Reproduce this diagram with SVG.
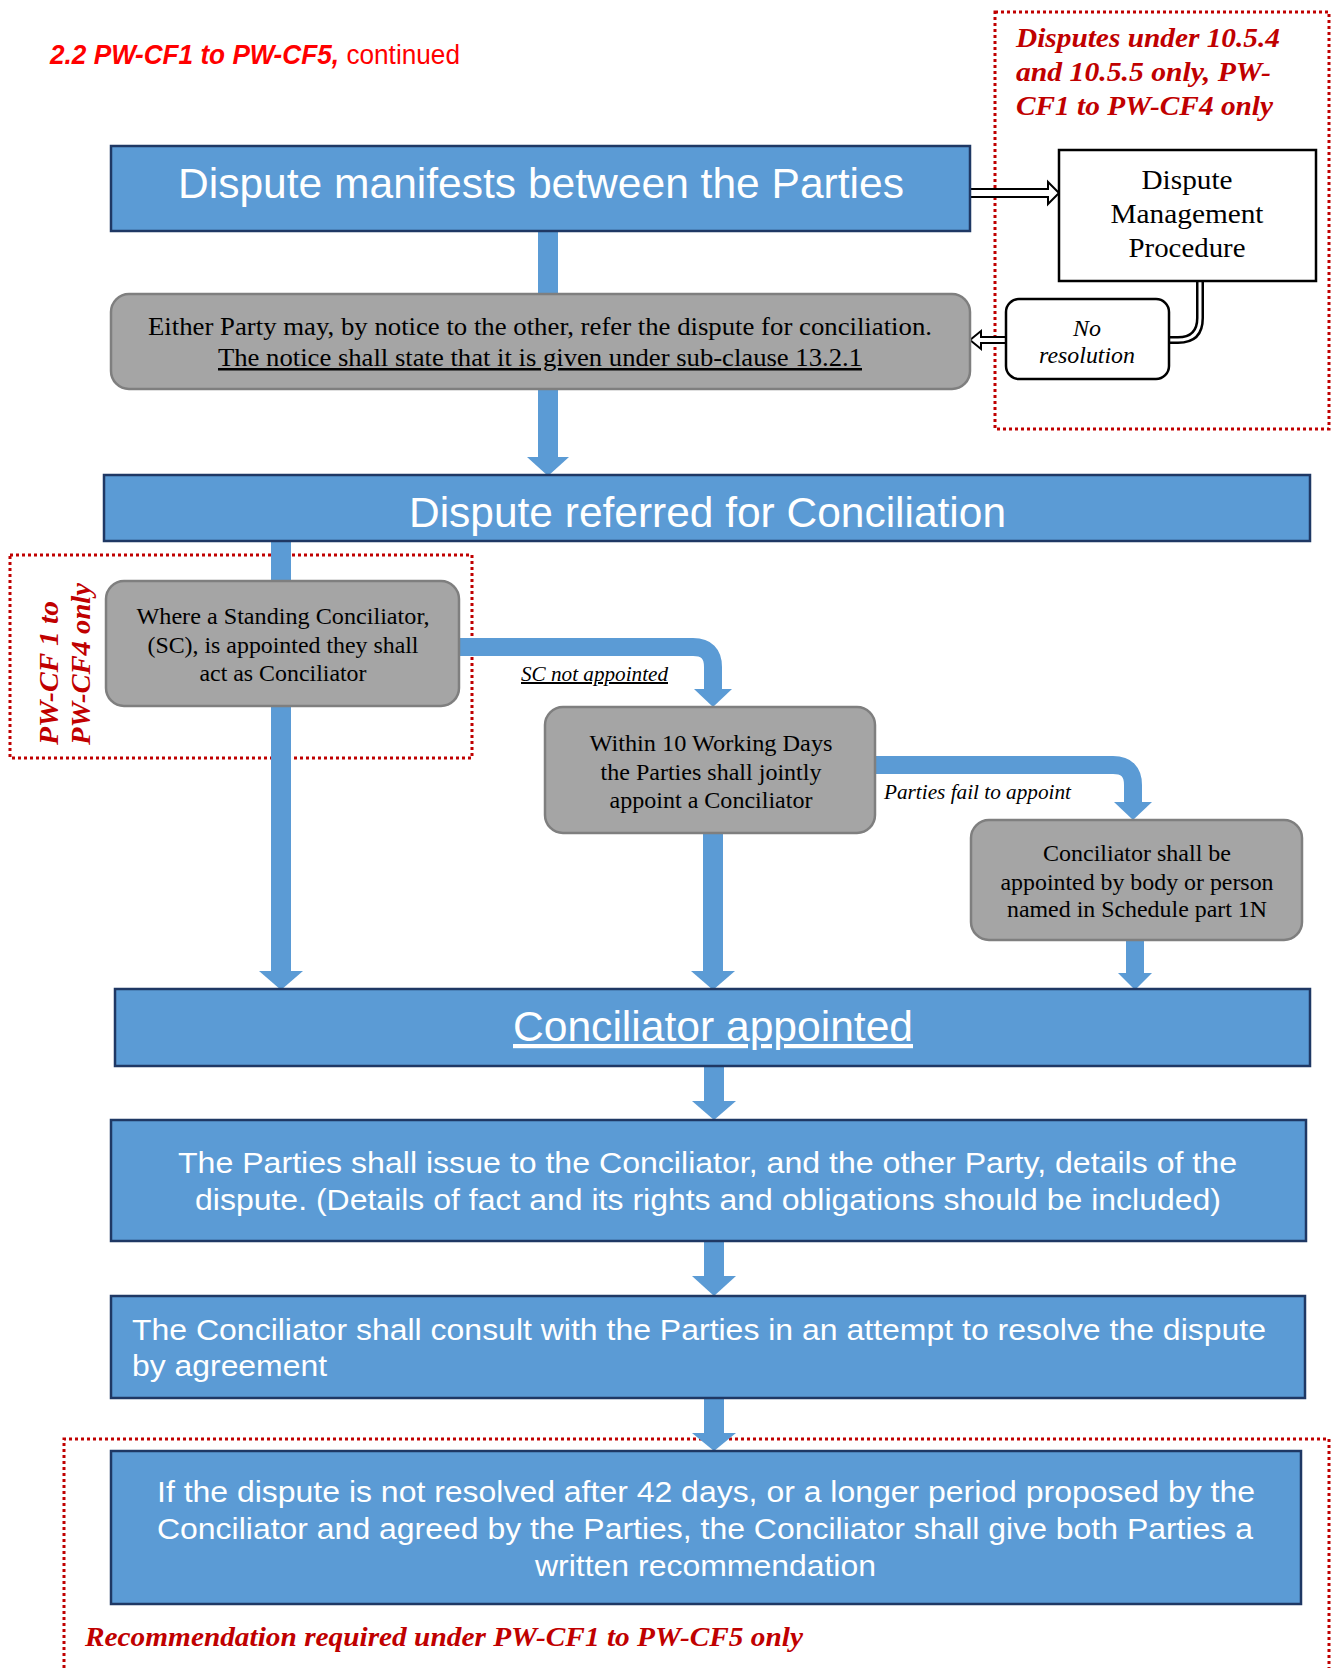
<svg xmlns="http://www.w3.org/2000/svg" width="1337" height="1668" viewBox="0 0 1337 1668">
<defs>
<style>
.blue{fill:#5B9BD5;stroke:#1F3864;stroke-width:2.5}
.gray{fill:#A5A5A5;stroke:#7F7F7F;stroke-width:2.5}
.wt{font-family:"Liberation Sans",Arial,sans-serif;fill:#FFFFFF}
.tm{font-family:"Liberation Serif","Times New Roman",serif;fill:#000000}
.red{font-family:"Liberation Serif","Times New Roman",serif;fill:#C00000;font-weight:bold;font-style:italic}
.dot{fill:none;stroke:#C00000;stroke-width:3;stroke-dasharray:3 3}
.shaft{fill:none;stroke:#5B9BD5}
.head{fill:#5B9BD5}
.hollow{fill:#FFFFFF;stroke:#000000;stroke-width:2}
</style>
</defs>
<rect width="1337" height="1668" fill="#FFFFFF"/>

<g id="title">
<text x="50" y="64" font-family="'Liberation Sans',Arial,sans-serif" font-size="27" fill="#FF0000" textLength="410" lengthAdjust="spacingAndGlyphs"><tspan font-weight="bold" font-style="italic">2.2 PW-CF1 to PW-CF5,</tspan> continued</text>
</g>

<g id="regions">
<rect class="dot" x="995" y="12" width="334" height="417"/>
<rect class="dot" x="10" y="555" width="462" height="203"/>
<path class="dot" d="M64,1680 V1439 H1329 V1680"/>
<text class="red" font-size="28"><tspan x="1016" y="47" textLength="264" lengthAdjust="spacingAndGlyphs">Disputes under 10.5.4</tspan><tspan x="1016" y="81" textLength="255" lengthAdjust="spacingAndGlyphs">and 10.5.5 only, PW-</tspan><tspan x="1016" y="115" textLength="257" lengthAdjust="spacingAndGlyphs">CF1 to PW-CF4 only</tspan></text>
<text class="red" font-size="28" transform="translate(58,745) rotate(-90)" textLength="144" lengthAdjust="spacingAndGlyphs">PW-CF 1 to</text>
<text class="red" font-size="28" transform="translate(90,745) rotate(-90)" textLength="162" lengthAdjust="spacingAndGlyphs">PW-CF4 only</text>
<text class="red" font-size="27" x="85" y="1646" textLength="718" lengthAdjust="spacingAndGlyphs">Recommendation required under PW-CF1 to PW-CF5 only</text>
</g>

<g id="connectors">
<path class="shaft" stroke-width="20" d="M548,231 V294"/>
<path class="shaft" stroke-width="20" d="M548,389 V458"/>
<polygon class="head" points="527,457 569,457 548,476"/>
<path class="shaft" stroke-width="20" d="M281,541 V972"/>
<polygon class="head" points="259,971 303,971 281,990"/>
<path class="shaft" stroke-width="18" d="M459,647 H693 Q713,647 713,667 V690"/>
<polygon class="head" points="694,689 732,689 713,707"/>
<path class="shaft" stroke-width="20" d="M713,833 V972"/>
<polygon class="head" points="691,971 735,971 713,990"/>
<path class="shaft" stroke-width="18" d="M875,765 H1113 Q1133,765 1133,785 V803"/>
<polygon class="head" points="1114,802 1152,802 1133,820"/>
<path class="shaft" stroke-width="18" d="M1135,940 V975"/>
<polygon class="head" points="1118,973 1152,973 1135,990"/>
<path class="shaft" stroke-width="20" d="M714,1066 V1102"/>
<polygon class="head" points="692,1101 736,1101 714,1120"/>
<path class="shaft" stroke-width="20" d="M714,1241 V1277"/>
<polygon class="head" points="692,1276 736,1276 714,1296"/>
<path class="shaft" stroke-width="20" d="M714,1398 V1434"/>
<polygon class="head" points="692,1433 736,1433 714,1451"/>
<polygon class="hollow" points="970,189 1048,189 1048,182 1059,193 1048,204 1048,197 970,197"/>
<path d="M1200,281 V318 Q1200,340 1178,340 H1168" fill="none" stroke="#000000" stroke-width="8"/>
<path d="M1200,280 V318 Q1200,340 1178,340 H1166" fill="none" stroke="#FFFFFF" stroke-width="3"/>
<polygon class="hollow" points="1006,337 981,337 981,331 970,340 981,349 981,343 1006,343"/>
<text class="tm" font-size="20" font-style="italic" x="521" y="681" text-decoration="underline" textLength="147" lengthAdjust="spacingAndGlyphs">SC not appointed</text>
<text class="tm" font-size="20" font-style="italic" x="884" y="799" textLength="187" lengthAdjust="spacingAndGlyphs">Parties fail to appoint</text>
</g>

<g id="n1">
<rect class="blue" x="111" y="146" width="859" height="85"/>
<text class="wt" font-size="42" x="178" y="198" textLength="726" lengthAdjust="spacingAndGlyphs">Dispute manifests between the Parties</text>
</g>

<g id="n_dmp">
<rect x="1059" y="150" width="257" height="131" fill="#FFFFFF" stroke="#000000" stroke-width="2.5"/>
<text class="tm" font-size="28" text-anchor="middle"><tspan x="1187" y="189" textLength="91" lengthAdjust="spacingAndGlyphs">Dispute</tspan><tspan x="1187" y="223" textLength="153" lengthAdjust="spacingAndGlyphs">Management</tspan><tspan x="1187" y="257" textLength="117" lengthAdjust="spacingAndGlyphs">Procedure</tspan></text>
</g>

<g id="n_nores">
<rect x="1006" y="299" width="163" height="80" rx="13" fill="#FFFFFF" stroke="#000000" stroke-width="2.5"/>
<text class="tm" font-size="24" font-style="italic" text-anchor="middle"><tspan x="1087" y="336">No</tspan><tspan x="1087" y="363" textLength="96" lengthAdjust="spacingAndGlyphs">resolution</tspan></text>
</g>

<g id="n2">
<rect class="gray" x="111" y="294" width="859" height="95" rx="18"/>
<text class="tm" font-size="25"><tspan x="148" y="335" textLength="784" lengthAdjust="spacingAndGlyphs">Either Party may, by notice to the other, refer the dispute for conciliation.</tspan><tspan x="218" y="366" textLength="644" lengthAdjust="spacingAndGlyphs" text-decoration="underline">The notice shall state that it is given under sub-clause 13.2.1</tspan></text>
</g>

<g id="n3">
<rect class="blue" x="104" y="475" width="1206" height="66"/>
<text class="wt" font-size="42" x="409" y="527" textLength="597" lengthAdjust="spacingAndGlyphs">Dispute referred for Conciliation</text>
</g>

<g id="n_sc">
<rect class="gray" x="106" y="581" width="353" height="125" rx="18"/>
<text class="tm" font-size="24" text-anchor="middle"><tspan x="283" y="624" textLength="293" lengthAdjust="spacingAndGlyphs">Where a Standing Conciliator,</tspan><tspan x="283" y="653" textLength="271" lengthAdjust="spacingAndGlyphs">(SC), is appointed they shall</tspan><tspan x="283" y="681" textLength="167" lengthAdjust="spacingAndGlyphs">act as Conciliator</tspan></text>
</g>

<g id="n_within">
<rect class="gray" x="545" y="707" width="330" height="126" rx="18"/>
<text class="tm" font-size="24" text-anchor="middle"><tspan x="711" y="751" textLength="243" lengthAdjust="spacingAndGlyphs">Within 10 Working Days</tspan><tspan x="711" y="780" textLength="221" lengthAdjust="spacingAndGlyphs">the Parties shall jointly</tspan><tspan x="711" y="808" textLength="203" lengthAdjust="spacingAndGlyphs">appoint a Conciliator</tspan></text>
</g>

<g id="n_body">
<rect class="gray" x="971" y="820" width="331" height="120" rx="18"/>
<text class="tm" font-size="24" text-anchor="middle"><tspan x="1137" y="861" textLength="188" lengthAdjust="spacingAndGlyphs">Conciliator shall be</tspan><tspan x="1137" y="890" textLength="273" lengthAdjust="spacingAndGlyphs">appointed by body or person</tspan><tspan x="1137" y="917" textLength="260" lengthAdjust="spacingAndGlyphs">named in Schedule part 1N</tspan></text>
</g>

<g id="n4">
<rect class="blue" x="115" y="989" width="1195" height="77"/>
<text class="wt" font-size="42" x="513" y="1041" textLength="400" lengthAdjust="spacingAndGlyphs" text-decoration="underline">Conciliator appointed</text>
</g>

<g id="n5">
<rect class="blue" x="111" y="1120" width="1195" height="121"/>
<text class="wt" font-size="29"><tspan x="178" y="1173" textLength="1059" lengthAdjust="spacingAndGlyphs">The Parties shall issue to the Conciliator, and the other Party, details of the</tspan><tspan x="195" y="1210" textLength="1026" lengthAdjust="spacingAndGlyphs">dispute. (Details of fact and its rights and obligations should be included)</tspan></text>
</g>

<g id="n6">
<rect class="blue" x="111" y="1296" width="1194" height="102"/>
<text class="wt" font-size="29"><tspan x="132" y="1340" textLength="1134" lengthAdjust="spacingAndGlyphs">The Conciliator shall consult with the Parties in an attempt to resolve the dispute</tspan><tspan x="132" y="1376" textLength="195" lengthAdjust="spacingAndGlyphs">by agreement</tspan></text>
</g>

<g id="n7">
<rect class="blue" x="111" y="1451" width="1190" height="153"/>
<text class="wt" font-size="29"><tspan x="157" y="1502" textLength="1098" lengthAdjust="spacingAndGlyphs">If the dispute is not resolved after 42 days, or a longer period proposed by the</tspan><tspan x="157" y="1539" textLength="1096" lengthAdjust="spacingAndGlyphs">Conciliator and agreed by the Parties, the Conciliator shall give both Parties a</tspan><tspan x="535" y="1576" textLength="341" lengthAdjust="spacingAndGlyphs">written recommendation</tspan></text>
</g>
</svg>
